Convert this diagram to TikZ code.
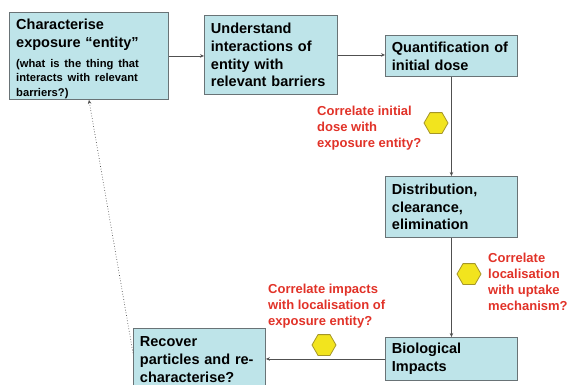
\documentclass[tikz,border=0pt]{standalone}
\usepackage{fontspec}
\setmainfont{Liberation Sans}
\usetikzlibrary{shapes.geometric,arrows.meta}
\definecolor{boxfill}{RGB}{190,228,233}
\definecolor{boxline}{RGB}{105,115,118}
\definecolor{redtxt}{RGB}{225,50,40}
\definecolor{hexfill}{RGB}{242,228,30}
\definecolor{hexline}{RGB}{165,150,40}
\definecolor{conn}{RGB}{80,80,80}
\begin{document}
\begin{tikzpicture}[x=1pt,y=-1pt,
  box/.style={draw=boxline, line width=0.9pt, fill=boxfill, anchor=north west, align=left,
    inner xsep=6pt, inner ysep=2pt, font=\bfseries\fontsize{14.5}{17.8}\selectfont},
  note/.style={anchor=north west, align=left, inner sep=0pt, text=redtxt,
    font=\bfseries\fontsize{13}{16}\selectfont},
  hexa/.style={regular polygon, regular polygon sides=6, minimum size=24pt, inner sep=0pt,
    fill=hexfill, draw=hexline, line width=0.8pt},
  flow/.style={draw=conn, line width=0.8pt, -{Stealth[length=4pt,width=3.5pt]}}
]
\useasboundingbox (0,0) rectangle (569,384);
\begin{scope}
\clip (0,0) rectangle (569,384);
\node[box, minimum width=159pt, minimum height=87pt] (b1) at (9,12) {};
\node[anchor=north west, align=left, inner sep=0pt, text width=150pt,
  font=\bfseries\fontsize{14.5}{18}\selectfont] (b1t) at (16,18.5)
  {Characterise\\exposure “entity”\par\vspace{5.5pt}{\fontsize{11.2}{14.5}\selectfont (what is the thing that\\interacts with relevant\\barriers?)\par}};
\node[box, text width=120pt, minimum width=133pt, minimum height=79pt] (b2) at (204,15)
  {Understand\\interactions of\\entity with\\relevant barriers};
\node[box, text width=119pt, minimum width=132pt, minimum height=41pt] (b3) at (385,35)
  {Quantification of\\initial dose};
\node[box, text width=119pt, minimum width=132pt, minimum height=61pt] (b4) at (385,176)
  {Distribution,\\clearance,\\elimination};
\node[box, text width=119pt, minimum width=132pt, minimum height=43pt] (b5) at (385,337)
  {Biological\\Impacts};
\node[box, text width=119pt, minimum width=132pt, minimum height=62pt] (b6) at (133,328)
  {Recover\\particles and re-\\characterise?};

\node[note] (r1) at (317,106) {Correlate initial\\dose with\\exposure entity?};
\node[note] (r2) at (488,253) {Correlate\\localisation\\with uptake\\mechanism?};
\node[note] (r3) at (268,284) {Correlate impacts\\with localisation of\\exposure entity?};

\node[hexa] (h1) at (436,123) {};
\node[hexa] (h2) at (469,274) {};
\node[hexa] (h3) at (324,345) {};

\draw[flow] (b1.east) -- (b1.east -| b2.west);
\draw[flow] (b2.east) -- (b2.east -| b3.west);
\draw[flow] (b3.south) -- (b4.north);
\draw[flow] (b4.south) -- (b5.north);
\draw[flow] (b5.west) -- (b5.west -| b6.east);
\draw[draw=conn, line width=0.7pt, dotted, -{Stealth[length=4pt,width=3.5pt]}]
  ([yshift=-25pt]b6.north west) -- (b1.south);
\end{scope}
\end{tikzpicture}
\end{document}
